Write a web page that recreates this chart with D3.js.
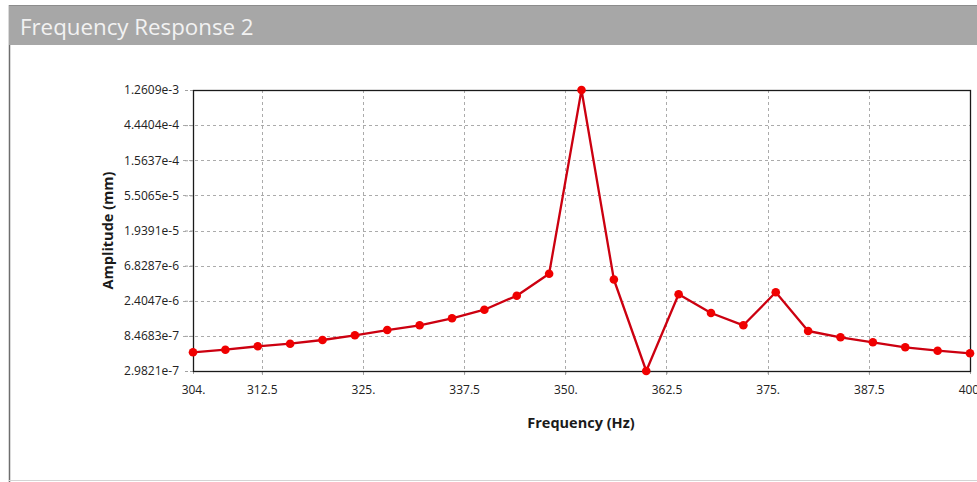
<!DOCTYPE html>
<html>
<head>
<meta charset="utf-8">
<script src="https://cdn.jsdelivr.net/npm/d3@7"></script>
<style>
  html, body { margin: 0; padding: 0; background: #fff; }
  svg { display: block; }
  text { font-family: "Open Sans", "Noto Sans", sans-serif; }
</style>
</head>
<body>
<svg id="chart" width="977" height="482"></svg>
<script>
// Harmonic response sweep: amplitude at each solved frequency
const frequencies = [304, 308, 312, 316, 320, 324, 328, 332, 336, 340, 344, 348,
                     352, 356, 360, 364, 368, 372, 376, 380, 384, 388, 392, 396, 400];
const amplitudes = [5.198e-7, 5.615e-7, 6.212e-7, 6.712e-7, 7.491e-7, 8.614e-7,
                    1.008e-6, 1.159e-6, 1.428e-6, 1.843e-6, 2.794e-6, 5.371e-6,
                    1.2609e-3, 4.521e-6, 2.9821e-7, 2.913e-6, 1.671e-6, 1.159e-6,
                    3.091e-6, 9.788e-7, 8.118e-7, 6.996e-7, 6.031e-7, 5.451e-7, 5.046e-7];
const xTicks = [304, 312.5, 325, 337.5, 350, 362.5, 375, 387.5, 400];
const xTickLabels = ["304.", "312.5", "325.", "337.5", "350.", "362.5", "375.", "387.5", "400."];
const yTicks = [2.9821e-7, 8.4683e-7, 2.4047e-6, 6.8287e-6, 1.9391e-5, 5.5065e-5,
                1.5637e-4, 4.4404e-4, 1.2609e-3];
const yTickLabels = ["2.9821e-7", "8.4683e-7", "2.4047e-6", "6.8287e-6", "1.9391e-5",
                     "5.5065e-5", "1.5637e-4", "4.4404e-4", "1.2609e-3"];

const svg = d3.select("#chart");
const W = 977, H = 482;

// Panel frame and title bar
svg.append("line").attr("x1", 9.5).attr("x2", 9.5).attr("y1", 5).attr("y2", H)
  .attr("stroke", "#6e6e6e").attr("stroke-width", 1.5);
svg.append("line").attr("x1", 9).attr("x2", W).attr("y1", 480.5).attr("y2", 480.5)
  .attr("stroke", "#d4d4d4").attr("stroke-width", 1);
svg.append("rect").attr("x", 9).attr("y", 5).attr("width", W - 9).attr("height", 40)
  .attr("fill", "#a7a7a7");
svg.append("line").attr("x1", 9).attr("x2", W).attr("y1", 5.5).attr("y2", 5.5)
  .attr("stroke", "#8c8c8c").attr("stroke-width", 1);
svg.append("text").attr("x", 20).attr("y", 35)
  .attr("fill", "#f2f2f2").attr("font-size", 22.3)
  .text("Frequency Response 2");

// Plot area
const plot = { left: 193, right: 970, top: 90, bottom: 371 };
const x = d3.scaleLinear().domain([304, 400]).range([plot.left, plot.right]);
const y = d3.scaleLog().domain([yTicks[0], yTicks[yTicks.length - 1]])
  .range([plot.bottom, plot.top]);

// Dashed grid
const grid = svg.append("g").attr("stroke", "#ababab").attr("stroke-width", 1)
  .attr("stroke-dasharray", "3,3");
grid.selectAll("line.v").data(xTicks.slice(1, -1)).join("line")
  .attr("class", "v")
  .attr("x1", d => Math.round(x(d)) + 0.5).attr("x2", d => Math.round(x(d)) + 0.5)
  .attr("y1", plot.top).attr("y2", plot.bottom + 5);
grid.selectAll("line.h").data(yTicks.slice(1, -1)).join("line")
  .attr("class", "h")
  .attr("x1", plot.left - 10).attr("x2", plot.right)
  .attr("y1", d => Math.round(y(d)) + 0.5).attr("y2", d => Math.round(y(d)) + 0.5);

// Axes
const xAxis = d3.axisBottom(x).tickValues(xTicks)
  .tickFormat((d, i) => xTickLabels[i]).tickSize(5).tickPadding(9);
const yAxis = d3.axisLeft(y).tickValues(yTicks)
  .tickFormat((d, i) => yTickLabels[i]).tickSize(10).tickPadding(4);

const gx = svg.append("g").attr("transform", `translate(0,${plot.bottom})`).call(xAxis);
const gy = svg.append("g").attr("transform", `translate(${plot.left},0)`).call(yAxis);
[gx, gy].forEach(g => {
  g.select(".domain").remove();
  g.selectAll(".tick line").attr("stroke", "#a0a0a0").attr("stroke-dasharray", "3,2");
  g.selectAll(".tick text").attr("fill", "#222").attr("font-size", 12)
    .attr("font-family", "\"Open Sans\", \"Noto Sans\", sans-serif");
});

// Plot border
svg.append("rect").attr("x", plot.left + 0.5).attr("y", plot.top + 0.5)
  .attr("width", plot.right - plot.left).attr("height", plot.bottom - plot.top)
  .attr("fill", "none").attr("stroke", "#1a1a1a").attr("stroke-width", 1.3);

// Axis titles
svg.append("text").attr("x", 581).attr("y", 428)
  .attr("text-anchor", "middle").attr("font-size", 14.5).attr("font-weight", "bold")
  .attr("fill", "#1a1a1a").text("Frequency (Hz)");
svg.append("text").attr("transform", `translate(113,${(plot.top + plot.bottom) / 2}) rotate(-90)`)
  .attr("text-anchor", "middle").attr("font-size", 14.5).attr("font-weight", "bold")
  .attr("fill", "#1a1a1a").text("Amplitude (mm)");

// Response curve with markers
const pts = frequencies.map((f, i) => [f, amplitudes[i]]);
const line = d3.line().x(d => x(d[0])).y(d => y(d[1]));
svg.append("path").datum(pts).attr("d", line)
  .attr("fill", "none").attr("stroke", "#cc0010").attr("stroke-width", 2.3)
  .attr("stroke-linejoin", "round");
svg.append("g").selectAll("circle").data(pts).join("circle")
  .attr("cx", d => x(d[0])).attr("cy", d => y(d[1])).attr("r", 4.3)
  .attr("fill", "#f00000");
</script>
</body>
</html>
